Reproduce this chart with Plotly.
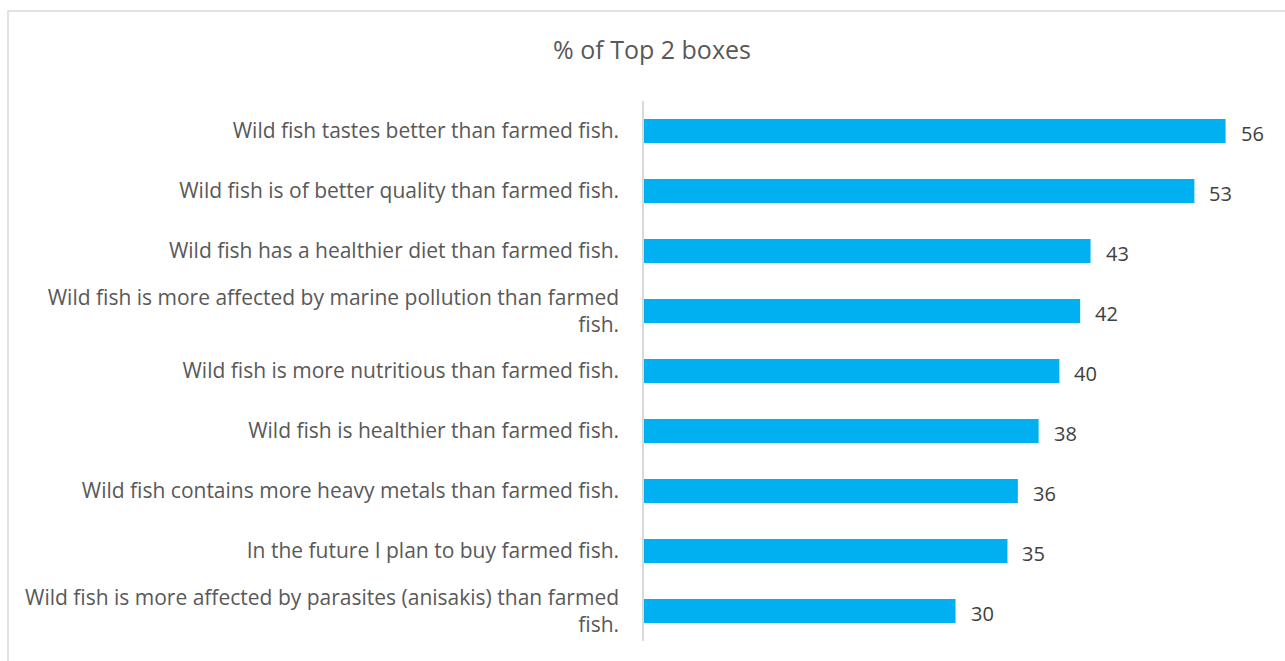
import plotly.graph_objects as go

categories = [
    "Wild fish tastes better than farmed fish.",
    "Wild fish is of better quality than farmed fish.",
    "Wild fish has a healthier diet than farmed fish.",
    "Wild fish is more affected by marine pollution than farmed<br>fish.",
    "Wild fish is more nutritious than farmed fish.",
    "Wild fish is healthier than farmed fish.",
    "Wild fish contains more heavy metals than farmed fish.",
    "In the future I plan to buy farmed fish.",
    "Wild fish is more affected by parasites (anisakis) than farmed<br>fish.",
]
values = [56, 53, 43, 42, 40, 38, 36, 35, 30]
title_text = "% of Top 2 boxes"

W, H = 1285, 661
L, R, T, B = 644, 20, 101, 20
pw, ph = W - L - R, H - T - B

FONT = "Open Sans"
GRAY = "#595959"

fig = go.Figure(go.Bar(
    x=values, y=categories, orientation="h",
    marker=dict(color="#00B0F0", line=dict(width=0)),
    width=0.4, hoverinfo="skip",
))

for v, c in zip(values, categories):
    fig.add_annotation(x=v, y=c, text=str(v), showarrow=False,
                       xanchor="left", xshift=13, yshift=-2,
                       font=dict(family=FONT, size=20, color="#404040"))

# chart border
fig.add_shape(type="rect", xref="paper", yref="paper",
              x0=(8 - L) / pw, x1=(W + 5 - L) / pw,
              y0=-(H + 5 - (T + ph)) / ph, y1=1 + (T - 11) / ph,
              line=dict(color="#D9D9D9", width=1.5), fillcolor="rgba(0,0,0,0)")

fig.update_layout(
    width=W, height=H,
    margin=dict(l=L, r=R, t=T, b=B),
    paper_bgcolor="white", plot_bgcolor="white",
    showlegend=False,
    title=dict(text=title_text, x=652 / W, xanchor="center",
               y=1 - 50 / H, yanchor="middle",
               font=dict(family=FONT, size=25, color=GRAY)),
    xaxis=dict(range=[0, 59.8], showgrid=False, zeroline=False,
               showticklabels=False, showline=False, fixedrange=True),
    yaxis=dict(autorange="reversed", showgrid=False, zeroline=False,
               showline=True, linecolor="#D9D9D9", linewidth=1.5,
               ticks="", ticklabelstandoff=19,
               tickfont=dict(family=FONT, size=21, color=GRAY)),
    font=dict(family=FONT),
)

fig.write_html("out.html")
